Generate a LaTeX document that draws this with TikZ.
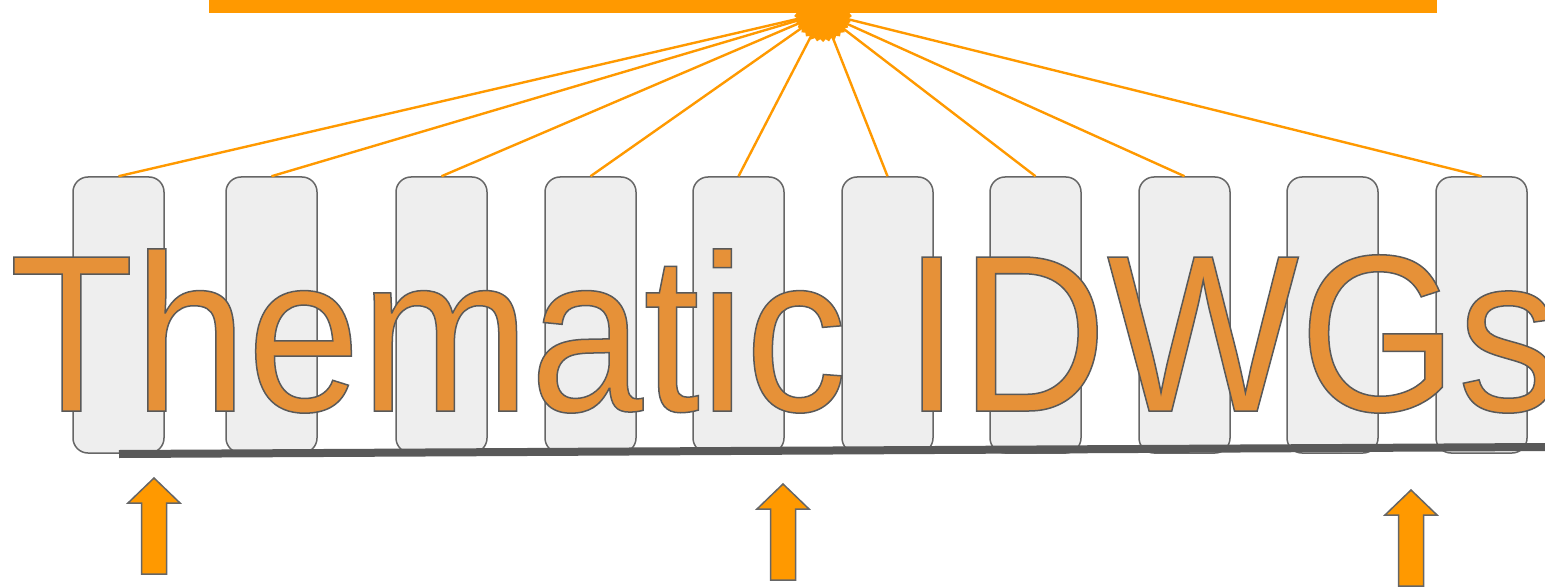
\documentclass[tikz,border=0pt]{standalone}
\usepackage{fontspec}
\setmainfont{Liberation Sans}
\newfontfamily\titlefont[FakeStretch=0.91]{Liberation Sans}
\usetikzlibrary{shapes.geometric}
\definecolor{barorange}{HTML}{FF9900}
\definecolor{textorange}{HTML}{E69138}
\definecolor{edgegray}{HTML}{666666}
\definecolor{linegray}{HTML}{595959}
\definecolor{boxgray}{HTML}{EEEEEE}
\newcommand{\outlined}[1]{{\color{textorange}\special{pdf:literal direct 2 Tr 0.75 w 0.35 0.35 0.35 RG}#1\special{pdf:literal direct 0 Tr}}}
\begin{document}
\begin{tikzpicture}[x=0.5pt,y=-0.5pt]
			\useasboundingbox (0,0) rectangle (1545,588);
			\tikzstyle{group}=[draw=edgegray,fill=boxgray,line width=0.75pt,rounded corners=7.5pt,minimum width=45.5pt,minimum height=138pt,inner sep=0]
			\tikzstyle{blockarrow}=[draw=edgegray,fill=barorange,line width=0.75pt]
			% top bar and burst
			\fill[barorange] (209,0) rectangle (1437,13);
			\foreach \x [count=\i] in {118.5,271.5,441.5,590.5,738.5,887.5,1035.5,1184.5,1332.5,1481.5} {
				\node[group] (g_\i) at (\x,315) {};
			}
			\node[star,star points=30,star point ratio=1.1,fill=barorange,minimum size=29pt,inner sep=0] (burst) at (823,13) {};
			\foreach \i in {1,...,8,10} {
				\draw[barorange,line width=1.2pt] (burst.center) -- (g_\i.north);
			}
			% title
			\node[anchor=base west,inner sep=0] (title) at (9,411) {\titlefont\fontsize{111.9}{124}\selectfont\outlined{Thematic IDWGs}};
			% baseline
			\draw[linegray,line width=4pt] (119,454) -- (1545,447);
			% arrows
			\foreach \x/\y in {154/478,783/484,1411/490} {
				\draw[blockarrow] (\x,\y) -- ++(26,25) -- ++(-13.5,0) -- ++(0,71) -- ++(-25,0) -- ++(0,-71) -- ++(-13.5,0) -- cycle;
			}
		\end{tikzpicture}
\end{document}
